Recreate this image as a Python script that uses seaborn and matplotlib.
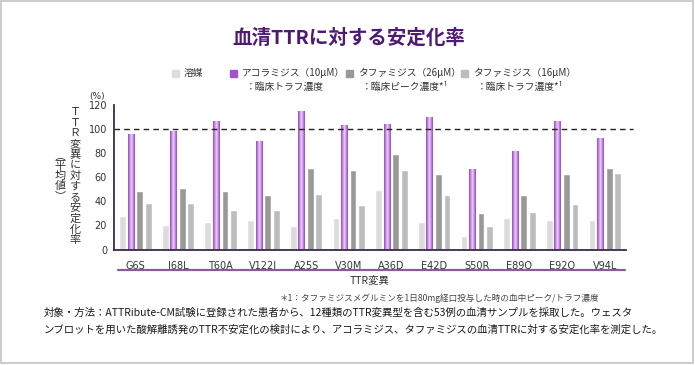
import numpy as np
import pandas as pd
import matplotlib
matplotlib.use("Agg")
import matplotlib.pyplot as plt
from matplotlib.patches import Rectangle
from matplotlib.colors import LinearSegmentedColormap
import seaborn as sns

mutations = ["G6S", "I68L", "T60A", "V122I", "A25S", "V30M",
             "A36D", "E42D", "S50R", "E89Q", "E92Q", "V94L"]
vehicle = [28, 20.5, 23, 24.5, 19.5, 26, 49.5, 23, 11, 26, 24.5, 24.5]
acoramidis_10 = [96, 98.5, 106.5, 90, 115, 103.5, 104, 110, 67, 82, 106.5, 92.5]
tafamidis_26 = [48.5, 51, 48.5, 45, 67.5, 66, 79.5, 62.5, 30, 45, 62.5, 67.5]
tafamidis_16 = [38.5, 38.5, 33, 33, 46, 37, 66, 45, 19.5, 31.5, 38, 63.5]

groups = ["溶媒", "アコラミジス（10μM）", "タファミジス（26μM）", "タファミジス（16μM）"]
subtitles = ["", "：臨床トラフ濃度", "：臨床ピーク濃度*¹", "：臨床トラフ濃度*¹"]
colors = ["#dcdcdc", "#a553cc", "#999999", "#bcbcbc"]

df = pd.DataFrame({
    "変異": mutations * 4,
    "群": np.repeat(groups, len(mutations)),
    "値": vehicle + acoramidis_10 + tafamidis_26 + tafamidis_16,
})

sns.set_style("white")
plt.rcParams["font.family"] = ["Noto Sans CJK JP", "DejaVu Sans"]

fig = plt.figure(figsize=(6.95, 3.65), dpi=100)
ax = fig.add_axes([0.164, 0.3164, 0.737, 0.396])

sns.barplot(data=df, x="変異", y="値", hue="群", hue_order=groups,
            palette=colors, width=0.8, gap=0.2, legend=False, ax=ax,
            errorbar=None, saturation=1)

# gradient look for the acoramidis bars
cmap = LinearSegmentedColormap.from_list(
    "aco", ["#9845c2", "#c58ae0", "#ecd4f5", "#c58ae0", "#9845c2"])
grad = np.linspace(0, 1, 64).reshape(1, -1)
for p in ax.patches:
    fc = p.get_facecolor()
    if abs(fc[0] - 0xa5 / 255) < 0.02 and abs(fc[1] - 0x53 / 255) < 0.02:
        x0, w, h = p.get_x(), p.get_width(), p.get_height()
        im = ax.imshow(grad, cmap=cmap, aspect="auto",
                       extent=[x0, x0 + w, 0, h], zorder=p.get_zorder() + 0.1)
        im.set_clip_path(p)

ax.set_xlim(-0.5, len(mutations) - 0.5)
ax.set_ylim(0, 120)
ax.set_yticks(range(0, 121, 20))
ax.set_xlabel("")
ax.set_ylabel("")

spine_col = "#3c2b48"
for s in ["top", "right"]:
    ax.spines[s].set_visible(False)
for s in ["left", "bottom"]:
    ax.spines[s].set_color(spine_col)
    ax.spines[s].set_linewidth(1.3)
ax.tick_params(axis="both", length=3, width=1, color=spine_col,
               labelsize=7, labelcolor="#333333", pad=2)
ax.tick_params(axis="x", pad=5)
for lab in ax.get_xticklabels() + ax.get_yticklabels():
    lab.set_family("DejaVu Sans")

ax.plot([0, 1.014], [100, 100], transform=ax.get_yaxis_transform(),
        color="#222222", lw=1, ls=(0, (4, 3)), clip_on=False, zorder=5)

W, H = 695, 365

# title
fig.text(349 / W, 1 - 38 / H, "血清TTRに対する安定化率", ha="center", va="center",
         fontsize=14, fontweight="bold", color="#4e1a73")

# legend
leg_x = [172, 230, 346, 461]
for i, (g, sub, c) in enumerate(zip(groups, subtitles, colors)):
    fig.patches.append(Rectangle((leg_x[i] / W, 1 - 77 / H), 7 / W, 7 / H,
                                 transform=fig.transFigure, color=c))
    fig.text((leg_x[i] + 12) / W, 1 - 73 / H, g, fontsize=7,
             va="center", ha="left", color="#333333")
    if sub:
        fig.text((leg_x[i] + 16) / W, 1 - 87 / H, sub, fontsize=7,
                 va="center", ha="left", color="#333333")

fig.text(97 / W, 1 - 97 / H, "(%)", fontsize=6.5, ha="center", va="center",
         color="#333333", family="DejaVu Sans")

# vertical y label
fig.text(75 / W, 1 - 176 / H, "\n".join("ＴＴＲ変異に対する安定化率"),
         fontsize=8, ha="center", va="center", linespacing=1.08,
         color="#333333")
fig.text(60 / W, 1 - 176 / H, "\n".join("︵平均値︶"),
         fontsize=8, ha="center", va="center", linespacing=1.0,
         color="#333333")

# purple bar under tick labels + axis title
fig.add_artist(plt.Line2D([118 / W, 625 / W], [1 - 270 / H, 1 - 270 / H],
                          transform=fig.transFigure, color="#8a5a9e", lw=1.6))
fig.text(370 / W, 1 - 281 / H, "TTR変異", fontsize=7.5, ha="center",
         va="center", color="#333333")

fig.text(440 / W, 1 - 298 / H,
         "＊1：タファミジスメグルミンを1日80mg経口投与した時の血中ピーク/トラフ濃度",
         fontsize=6.2, ha="center", va="center", color="#444444")
fig.text(44 / W, 1 - 313 / H,
         "対象・方法：ATTRibute-CM試験に登録された患者から、12種類のTTR変異型を含む53例の血清サンプルを採取した。ウェスタ",
         fontsize=7.5, ha="left", va="center", color="#1a1a1a")
fig.text(44 / W, 1 - 330 / H,
         "ンブロットを用いた酸解離誘発のTTR不安定化の検討により、アコラミジス、タファミジスの血清TTRに対する安定化率を測定した。",
         fontsize=7.5, ha="left", va="center", color="#1a1a1a")

# outer border
fig.patches.append(Rectangle((0.002, 0.006), 0.995, 0.99,
                             transform=fig.transFigure, fill=False,
                             edgecolor="#c4c4c4", lw=1.2))

fig.savefig("out.png", dpi=100)
